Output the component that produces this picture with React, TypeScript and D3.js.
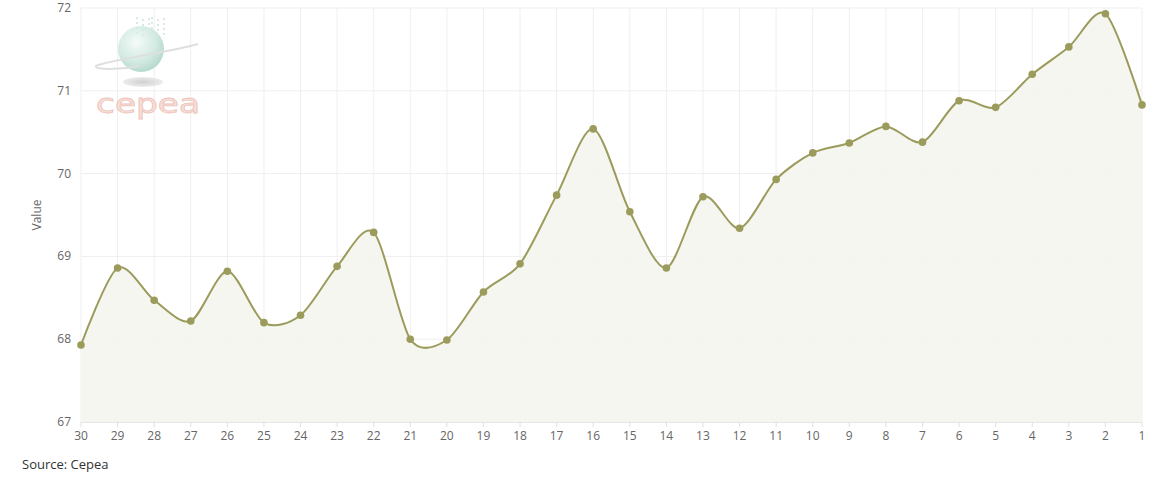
import React from "react";
import * as d3 from "d3";

const categories = ["30","29","28","27","26","25","24","23","22","21","20","19","18","17","16","15","14","13","12","11","10","9","8","7","6","5","4","3","2","1"];
const values = [67.93,68.86,68.47,68.22,68.82,68.20,68.29,68.88,69.29,68.00,67.99,68.57,68.91,69.74,70.54,69.54,68.86,69.72,69.34,69.93,70.25,70.37,70.57,70.38,70.88,70.80,71.20,71.53,71.93,70.83];
const yTicks = [67,68,69,70,71,72];
const yLabel = "Value";
const sourceText = "Source: Cepea";

const W = 1166, H = 480;
const left = 81, right = 1142, top = 8, bottom = 422;

export default function App() {
  const x = d3.scalePoint<string>().domain(categories).range([left, right]);
  const y = d3.scaleLinear().domain([67, 72]).range([bottom, top]);
  const curve = d3.curveCardinal.tension(0.15);
  const line = d3.line<number>().x((_, i) => x(categories[i])!).y(d => y(d)).curve(curve);
  const area = d3.area<number>().x((_, i) => x(categories[i])!).y0(bottom).y1(d => y(d)).curve(curve);
  const font = "'Open Sans', 'DejaVu Sans', sans-serif";
  return (
    <svg width={W} height={H} style={{ position: "absolute", left: 0, top: 0, background: "#fff" }} fontFamily={font}>
      <defs>
        <radialGradient id="globe" cx="40%" cy="35%" r="70%">
          <stop offset="0%" stopColor="#f4fbf8" />
          <stop offset="60%" stopColor="#d3eae2" />
          <stop offset="100%" stopColor="#b3d7ca" />
        </radialGradient>
        <radialGradient id="shadow" cx="50%" cy="50%" r="50%">
          <stop offset="0%" stopColor="#c4c4c4" />
          <stop offset="100%" stopColor="#e8e8e8" />
        </radialGradient>
      </defs>
      {/* grid */}
      {categories.map(c => (
        <line key={"v" + c} x1={x(c)} x2={x(c)} y1={top} y2={bottom} stroke="#efefef" strokeWidth={1} />
      ))}
      {yTicks.map(t => (
        <line key={"h" + t} x1={left} x2={right} y1={y(t)} y2={y(t)} stroke="#efefef" strokeWidth={1} />
      ))}
      {/* logo */}
      <g>
        <ellipse cx={143} cy={82} rx={20} ry={5} fill="url(#shadow)" opacity={0.8} />
        <circle cx={141} cy={49} r={23} fill="url(#globe)" />
        <path d="M 198 44 C 170 52, 100 62, 96 66 C 94 70, 120 70, 140 66" fill="none" stroke="#dde0de" strokeWidth={2} />
        {d3.range(0, 24).map(i => (
          <rect key={"px" + i} x={136 + (i % 6) * 5 + ((i * 7) % 3)} y={17 + Math.floor(i / 6) * 5 + ((i * 5) % 3)} width={2} height={2} fill="#d5ebe3" />
        ))}
        <text x={96} y={113} fontSize={26} fill="#f7e0da" stroke="#eec4ba" strokeWidth={0.8} fontFamily="'DejaVu Sans', sans-serif" textLength={104} lengthAdjust="spacingAndGlyphs">cepea</text>
      </g>
      {/* series */}
      <path d={area(values)!} fill="#f5f5f0" opacity={0.9} />
      <path d={line(values)!} fill="none" stroke="#9b9b5c" strokeWidth={2} />
      {values.map((v, i) => (
        <circle key={"p" + i} cx={x(categories[i])} cy={y(v)} r={3.8} fill="#9b9b5c" />
      ))}
      {/* axes */}
      <line x1={left} x2={right} y1={bottom + 0.5} y2={bottom + 0.5} stroke="#e6e6e6" />
      {categories.map(c => (
        <g key={"t" + c}>
          <line x1={x(c)} x2={x(c)} y1={bottom} y2={bottom + 5} stroke="#e0e0e0" />
          <text x={x(c)} y={440} textAnchor="middle" fontSize={12} fill="#666">{c}</text>
        </g>
      ))}
      {yTicks.map(t => (
        <text key={"yl" + t} x={71} y={y(t) + 4} textAnchor="end" fontSize={12} fill="#666">{t}</text>
      ))}
      <text transform={`translate(41,${(top + bottom) / 2}) rotate(-90)`} textAnchor="middle" fontSize={12} fill="#666">{yLabel}</text>
      <text x={22} y={469} fontSize={13} fill="#333">{sourceText}</text>
    </svg>
  );
}
